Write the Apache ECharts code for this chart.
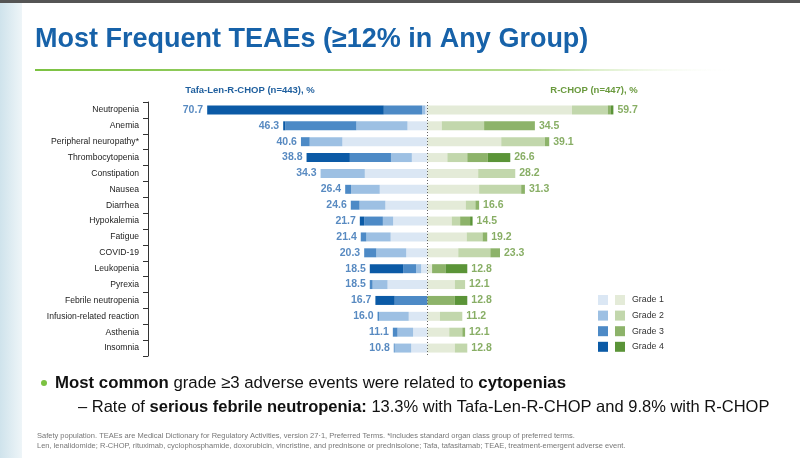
<!DOCTYPE html>
<html><head><meta charset="utf-8">
<script src="https://cdn.jsdelivr.net/npm/echarts@6/dist/echarts.min.js"></script>
<style>html,body{margin:0;padding:0;background:#fff}#c{width:800px;height:458px}</style>
</head><body><div id="c"></div>
<script>
var categories = ['Neutropenia','Anemia','Peripheral neuropathy*','Thrombocytopenia','Constipation','Nausea','Diarrhea','Hypokalemia','Fatigue','COVID-19','Leukopenia','Pyrexia','Febrile neutropenia','Infusion-related reaction','Asthenia','Insomnia'];
// Tafa-Len-R-CHOP (n=443), % by grade
var tafaG1 = [0.7, 6.4, 27.3, 5.0, 20.1, 15.3, 13.5, 11.0, 11.8, 6.8, 2.0, 12.8, 0.0, 6.0, 4.6, 5.2];
var tafaG2 = [1.0, 16.4, 10.5, 6.7, 14.2, 9.2, 8.3, 3.3, 7.8, 9.6, 1.6, 4.8, 0.0, 9.5, 5.0, 5.3];
var tafaG3 = [12.3, 22.8, 2.8, 13.2, 0.0, 1.9, 2.8, 6.0, 1.8, 3.9, 4.2, 0.9, 10.5, 0.5, 1.5, 0.3];
var tafaG4 = [56.7, 0.7, 0.0, 13.9, 0.0, 0.0, 0.0, 1.4, 0.0, 0.0, 10.7, 0.0, 6.2, 0.0, 0.0, 0.0];
var tafaTotal = [70.7, 46.3, 40.6, 38.8, 34.3, 26.4, 24.6, 21.7, 21.4, 20.3, 18.5, 18.5, 16.7, 16.0, 11.1, 10.8];
// R-CHOP (n=447), % by grade
var rchopG1 = [46.4, 4.6, 23.7, 6.4, 16.3, 16.6, 12.3, 7.8, 12.6, 9.9, 1.5, 8.8, 0.0, 4.0, 7.0, 8.8];
var rchopG2 = [11.5, 13.6, 14.0, 6.4, 11.9, 13.5, 3.1, 2.7, 5.1, 10.3, 0.0, 3.3, 0.0, 7.2, 4.2, 4.0];
var rchopG3 = [1.0, 16.3, 1.4, 6.6, 0.0, 1.2, 1.2, 3.2, 1.5, 3.1, 4.3, 0.0, 8.8, 0.0, 0.9, 0.0];
var rchopG4 = [0.8, 0.0, 0.0, 7.2, 0.0, 0.0, 0.0, 0.8, 0.0, 0.0, 7.0, 0.0, 4.0, 0.0, 0.0, 0.0];
var rchopTotal = [59.7, 34.5, 39.1, 26.6, 28.2, 31.3, 16.6, 14.5, 19.2, 23.3, 12.8, 12.1, 12.8, 11.2, 12.1, 12.8];
var gradeLabels = ['Grade 1','Grade 2','Grade 3','Grade 4'];

var blues = ['#dbe7f4','#9dc0e3','#4d8ac6','#0b5aa6'];
var greens = ['#e4ebd8','#c2d7ac','#8db36a','#5b9438'];
var FW = 'Liberation Sans, Arial, sans-serif';

function barSeries(name, vals, color, neg){
  return {type:'bar', name:name, stack:'all', barWidth:9, silent:true,
    itemStyle:{color:color},
    data: vals.map(function(v){return neg ? -v : v;})};
}
var series = [];
[tafaG1,tafaG2,tafaG3,tafaG4].forEach(function(a,i){ series.push(barSeries('T'+gradeLabels[i], a, blues[i], true)); });
[rchopG1,rchopG2,rchopG3,rchopG4].forEach(function(a,i){ series.push(barSeries('R'+gradeLabels[i], a, greens[i], false)); });
series[0].markLine = {silent:true, symbol:'none', label:{show:false},
  lineStyle:{color:'#666', type:[1,2], width:1}, data:[{xAxis:0}]};
series.push({type:'scatter', symbolSize:0, silent:true,
  data: tafaTotal.map(function(v,i){return [-v, i];}),
  label:{show:true, position:'left', distance:4, formatter:function(p){return tafaTotal[p.dataIndex].toFixed(1);},
    color:'#2e6db1', fontWeight:'bold', fontSize:10.5, fontFamily:FW}});
series.push({type:'scatter', symbolSize:0, silent:true,
  data: rchopTotal.map(function(v,i){return [v, i];}),
  label:{show:true, position:'right', distance:4, formatter:function(p){return rchopTotal[p.dataIndex].toFixed(1);},
    color:'#6a9a3e', fontWeight:'bold', fontSize:10.5, fontFamily:FW}});

var graphic = [
  {type:'rect', shape:{x:0,y:0,width:800,height:3}, style:{fill:'#555'}},
  {type:'rect', shape:{x:0,y:3,width:22,height:455}, style:{fill:new echarts.graphic.LinearGradient(0,0,1,0,[{offset:0,color:'#cfe3ec'},{offset:1,color:'#eef5f8'}])}},
  {type:'text', x:35, y:26, style:{text:'Most Frequent TEAEs (\u226512% in Any Group)', font:'bold 27px '+FW, fill:'#1762a9'}},
  {type:'rect', shape:{x:35,y:69,width:705,height:2}, style:{fill:new echarts.graphic.LinearGradient(0,0,1,0,[{offset:0,color:'#7cc242'},{offset:0.7,color:'#b5dc8e'},{offset:1,color:'rgba(255,255,255,0)'}])}},
  {type:'text', x:250, y:90, style:{text:'Tafa-Len-R-CHOP (n=443), %', font:'bold 9.5px '+FW, fill:'#1f5f9e', align:'center', verticalAlign:'middle'}},
  {type:'text', x:594, y:90, style:{text:'R-CHOP (n=447), %', font:'bold 9.5px '+FW, fill:'#6a9a3e', align:'center', verticalAlign:'middle'}},
  {type:'circle', shape:{cx:44,cy:383,r:3}, style:{fill:'#7cc242'}},
  {type:'text', x:55, y:383, style:{text:'{b|Most common} grade \u22653 adverse events were related to {b|cytopenias}', font:'16.8px '+FW, fill:'#111', verticalAlign:'middle', rich:{b:{font:'bold 16.8px '+FW, fill:'#111'}}}},
  {type:'text', x:78, y:407, style:{text:'\u2013 Rate of {b|serious febrile neutropenia:} 13.3% with Tafa-Len-R-CHOP and 9.8% with R-CHOP', font:'16.5px '+FW, fill:'#111', verticalAlign:'middle', rich:{b:{font:'bold 16.5px '+FW, fill:'#111'}}}},
  {type:'text', x:37, y:436, style:{text:'Safety population. TEAEs are Medical Dictionary for Regulatory Activities, version 27\u00b71, Preferred Terms. *Includes standard organ class group of preferred terms.', font:'7.5px '+FW, fill:'#777', verticalAlign:'middle'}},
  {type:'text', x:37, y:446, style:{text:'Len, lenalidomide; R-CHOP, rituximab, cyclophosphamide, doxorubicin, vincristine, and prednisone or prednisolone; Tafa, tafasitamab; TEAE, treatment-emergent adverse event.', font:'7.5px '+FW, fill:'#777', verticalAlign:'middle'}}
];
gradeLabels.forEach(function(g,i){
  var y = 300 + i*15.6;
  graphic.push({type:'rect', shape:{x:598,y:y-5,width:10,height:10}, style:{fill:blues[i]}});
  graphic.push({type:'rect', shape:{x:615,y:y-5,width:10,height:10}, style:{fill:greens[i]}});
  graphic.push({type:'text', x:632, y:y, style:{text:g, font:'8.8px '+FW, fill:'#333', verticalAlign:'middle'}});
});

var chart = echarts.init(document.getElementById('c'), null, {renderer:'canvas'});
chart.setOption({
  animation:false,
  grid:{left:148, top:102, width:498.4, height:254},
  xAxis:{type:'value', min:-89.7, max:70.3, show:false, splitLine:{show:false}},
  yAxis:{type:'category', data:categories, inverse:true,
    axisLine:{show:true, onZero:false, lineStyle:{color:'#333'}},
    axisTick:{show:true, inside:false, length:5, lineStyle:{color:'#333', width:1}},
    axisLabel:{fontSize:8.6, color:'#222', margin:9, fontFamily:FW}},
  series:series,
  graphic:graphic
});
</script></body></html>
